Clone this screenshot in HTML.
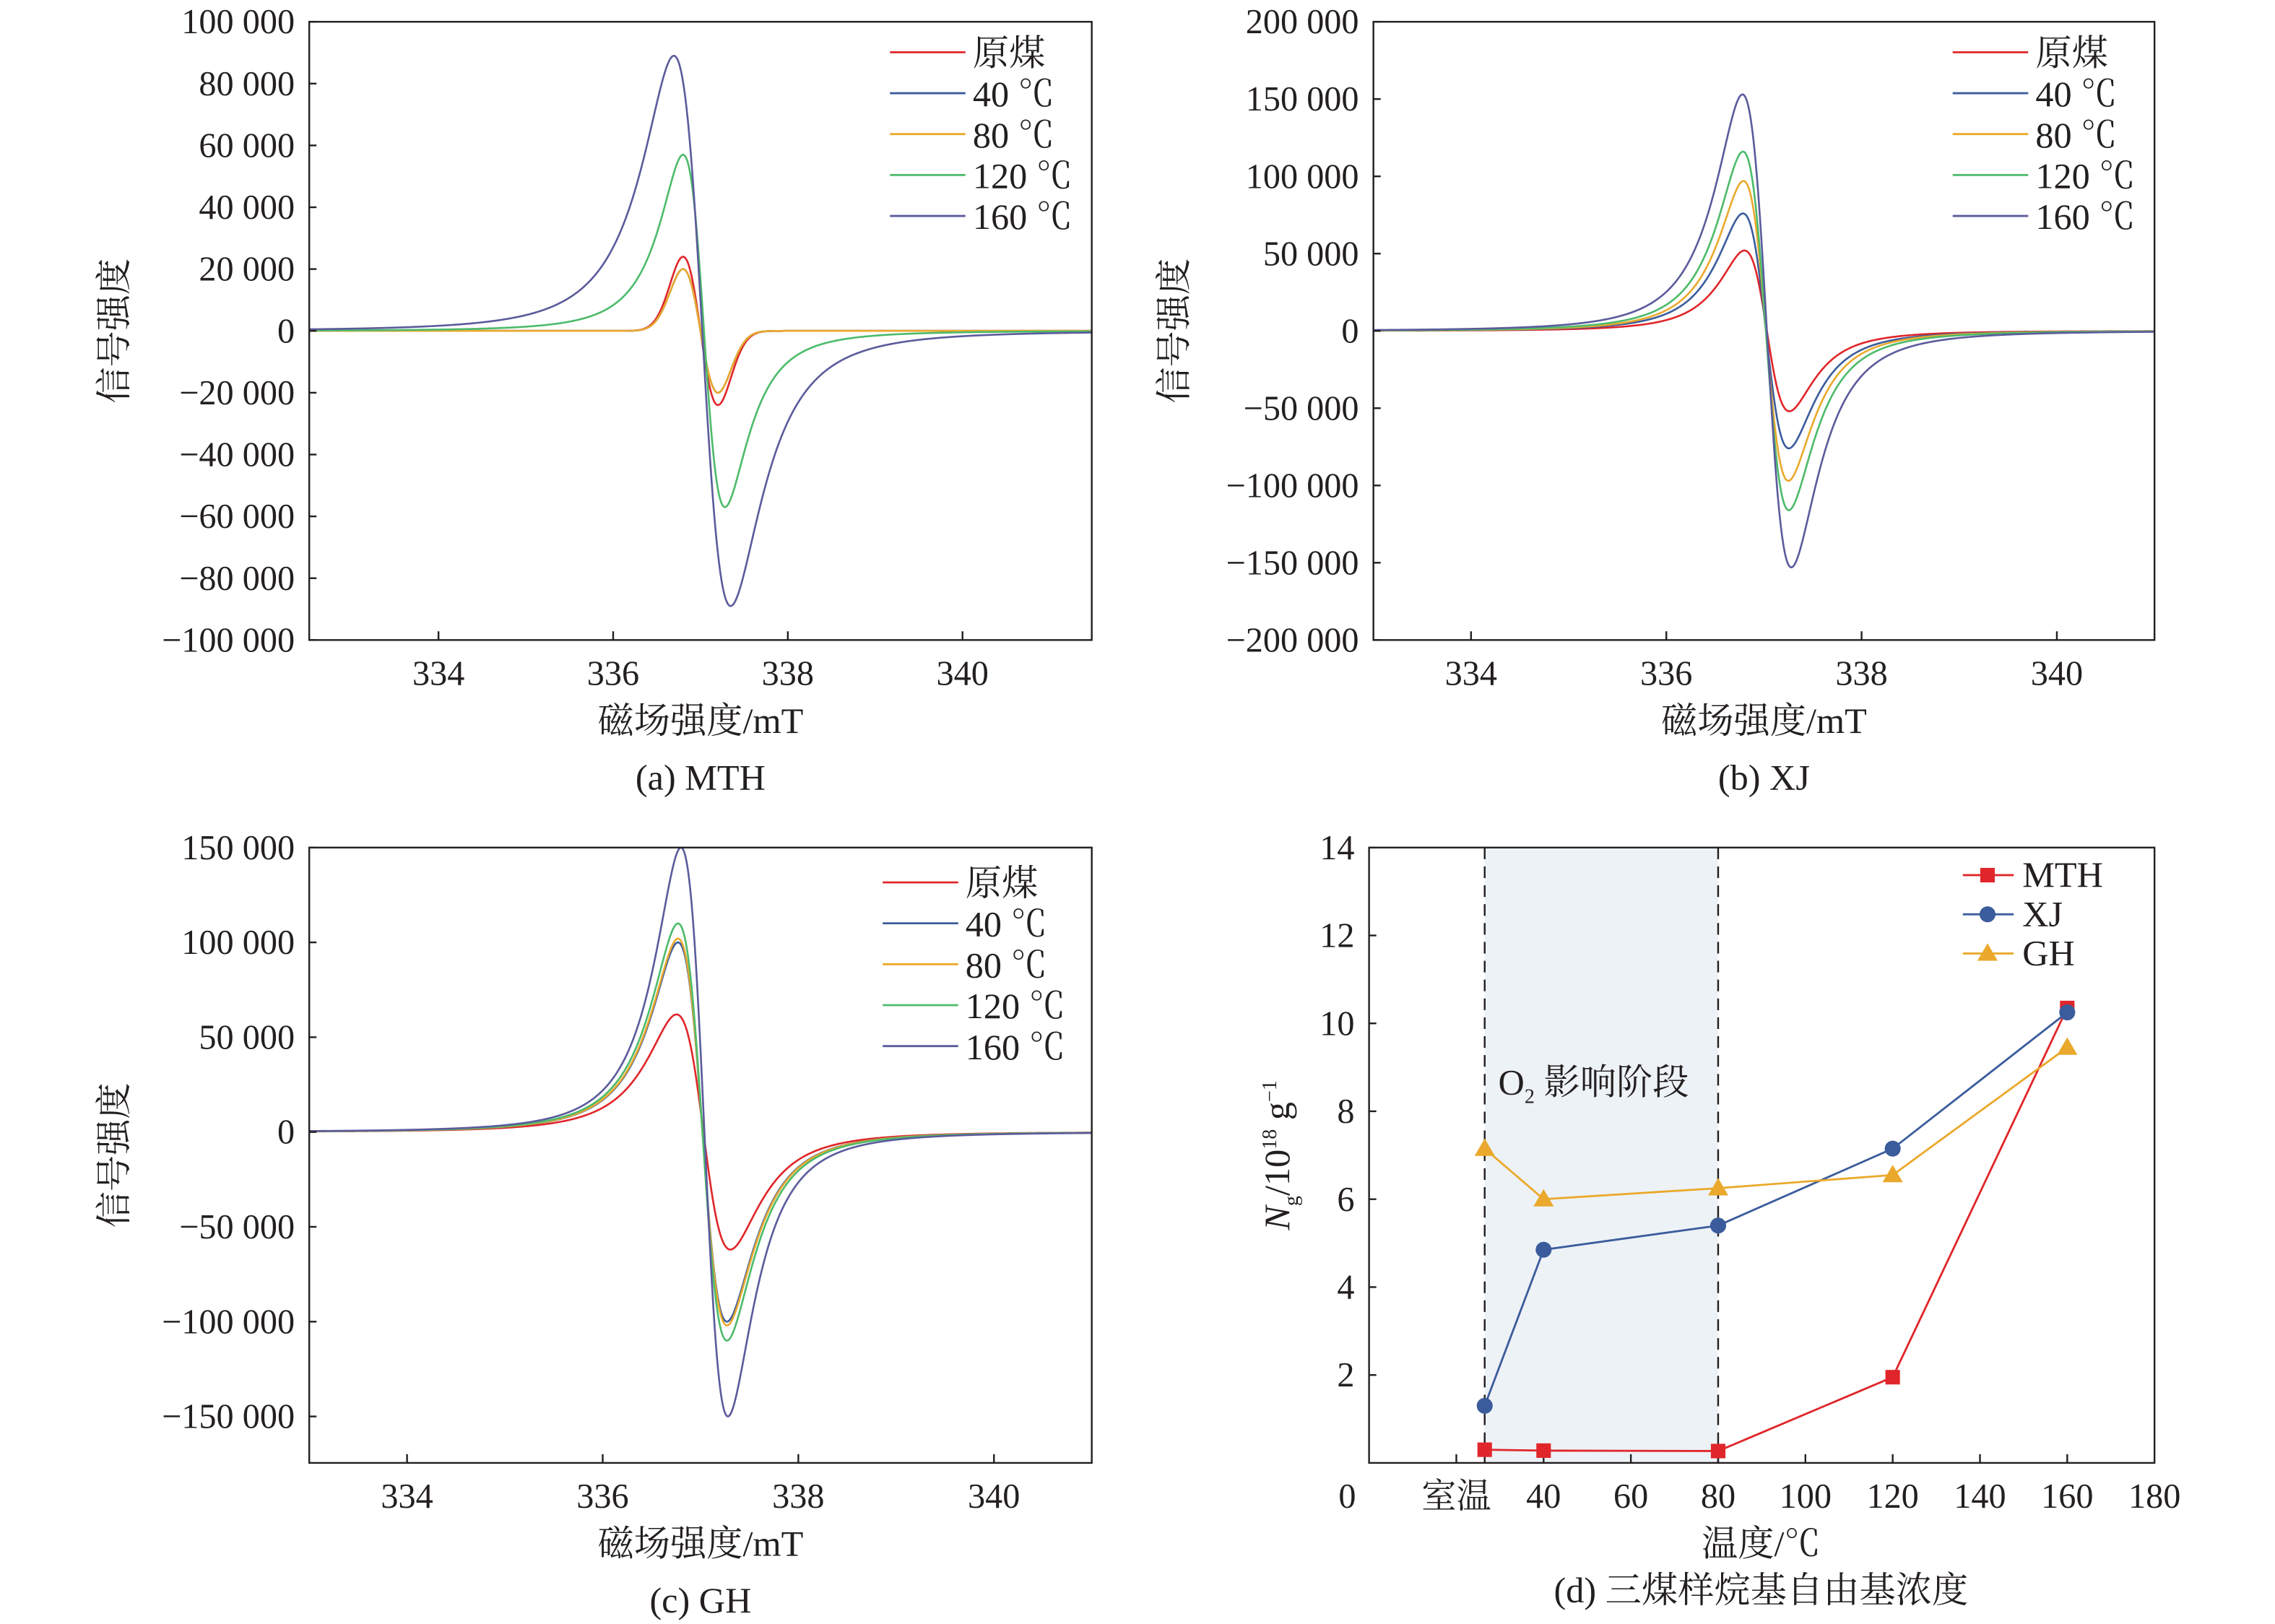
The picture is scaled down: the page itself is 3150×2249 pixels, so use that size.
<!DOCTYPE html>
<html><head><meta charset="utf-8">
<style>
html,body{margin:0;padding:0;background:#fff;}
svg{display:block;}
text{font-family:"Liberation Serif","Noto Serif CJK SC",serif;fill:#231f20;}
</style></head>
<body>
<svg id="fig" width="3150" height="2249" viewBox="0 0 1567 1119" preserveAspectRatio="none" xmlns="http://www.w3.org/2000/svg"></svg>
<script>
// ---------- data ----------
const seriesNames = ["原煤","40 ℃","80 ℃","120 ℃","160 ℃"];
// Panel (a) MTH: peak amplitude, center (mT), peak-to-peak width (mT), line shape
const ampA = [24000, 20000, 20000, 57000, 89000];
const cenA = [337.0, 337.0, 337.0, 337.04, 337.02];
const wA   = [0.40, 0.40, 0.40, 0.48, 0.65];
const shpA = ["G","G","G","L","L"];
// Panel (b) XJ
const ampB = [52000, 76000, 97000, 116000, 153000];
const cenB = [337.03, 337.02, 337.02, 337.02, 337.03];
const wB   = [0.46, 0.47, 0.46, 0.47, 0.50];
const shpB = ["L","L","L","L","L"];
// Panel (c) GH
const ampC = [62000, 100000, 102000, 110000, 150000];
const cenC = [337.03, 337.02, 337.02, 337.02, 337.04];
const wC   = [0.55, 0.50, 0.50, 0.50, 0.48];
const shpC = ["L","L","L","L","L"];
// Panel (d)
const tempX = [26.5, 40, 80, 120, 160];
const mth = [0.3, 0.28, 0.27, 1.95, 10.35];
const xj  = [1.3, 4.85, 5.4, 7.15, 10.25];
const gh  = [7.15, 6.0, 6.25, 6.55, 9.45];
const dTicksX = ["0","室温","40","60","80","100","120","140","160","180"];
const dTicksY = [2,4,6,8,10,12,14];

const colors = ["#e0262a","#3b5c9c","#eaa92c","#4dbb6b","#5b5b9c"];
const NS="http://www.w3.org/2000/svg";
const svg=document.getElementById('fig');
function el(tag,attrs,parent,txt){const e=document.createElementNS(NS,tag);for(const k in attrs)e.setAttribute(k,attrs[k]);if(txt!==undefined)e.textContent=txt;(parent||svg).appendChild(e);return e;}

function shape(x,c,w,s){
  if(s==="L"){const g=(w/2)*Math.sqrt(3);const u=(x-c)/g;return -u/Math.pow(1+u*u,2)/0.32476;}
  const sg=w/2;const u=(x-c)/sg;return -u*Math.exp(-(u*u-1)/2);
}
function fmt(v){const s=Math.abs(v).toString();const t=s.length>3?s.slice(0,s.length-3)+" "+s.slice(-3):s;return (v<0?"−":"")+t;}

function epr(P){
  const g=el('g',{});
  
  
  const sx=x=>P.L+(x-P.x0)/(P.x1-P.x0)*(P.R-P.L);
  const sy=y=>P.T+(P.y1-y)/(P.y1-P.y0)*(P.B-P.T);
  const clip=el('clipPath',{id:P.name+'-clip'},g);el('rect',{x:P.L,y:P.T,width:P.R-P.L,height:P.B-P.T},clip);
  for(let i=0;i<seriesNames.length;i++){
    let d="";
    for(let k=0;k<=900;k++){const x=P.x0+(P.x1-P.x0)*k/900;const y=P.amp[i]*shape(x,P.cen[i],P.w[i],P.shp[i]);d+=(k?"L":"M")+sx(x).toFixed(2)+","+sy(y).toFixed(2);}
    const p=el('path',{d:d,fill:"none",stroke:colors[i],"stroke-width":1.3,"clip-path":"url(#"+P.name+"-clip)"},g);
    
    
  }
  const fr=el('rect',{x:P.L,y:P.T,width:P.R-P.L,height:P.B-P.T,fill:"none",stroke:"#231f20","stroke-width":1.2},g);
  
  
  for(const v of P.yt){const y=sy(v);el('line',{x1:P.L,x2:P.L+5,y1:y,y2:y,stroke:"#231f20","stroke-width":1.2},g);
    const t=el('text',{x:P.L-10,y:y+8,"font-size":24,"text-anchor":"end"},g,fmt(v));
    
    }
  for(const v of [334,336,338,340]){const x=sx(v);el('line',{x1:x,x2:x,y1:P.B,y2:P.B-6,stroke:"#231f20","stroke-width":1.2},g);
    const t=el('text',{x:x,y:P.B+31,"font-size":24,"text-anchor":"middle"},g,v);
    
    }
  const yl=el('text',{x:0,y:0,"font-size":25,"text-anchor":"middle",transform:"translate("+(P.yl)+","+((P.T+P.B)/2)+") rotate(-90)"},g,"信号强度");
  
  
  const cx=(P.L+P.R)/2;
  const xl=el('text',{x:cx,y:P.B+64,"font-size":25,"text-anchor":"middle"},g,"磁场强度/mT");
  
  
  const cp=el('text',{x:cx,y:P.B+103,"font-size":25,"text-anchor":"middle"},g,P.cap);
  
  
  for(let i=0;i<seriesNames.length;i++){const y=P.lgY+i*28.2;
    const ln=el('line',{x1:P.lgX,x2:P.lgX+52,y1:y,y2:y,stroke:colors[i],"stroke-width":1.4},g);
    
    
    const t=el('text',{x:P.lgX+57,y:y+9,"font-size":25},g,seriesNames[i]);
    
    }
}
epr({name:"panel-a-mth",L:213,R:752,T:15,B:441,x0:332.52,x1:341.48,y0:-100000,y1:100000,
  yt:[100000,80000,60000,40000,20000,0,-20000,-40000,-60000,-80000,-100000],amp:ampA,cen:cenA,w:wA,shp:shpA,yl:87,cap:"(a) MTH",lgX:613,lgY:36});
epr({name:"panel-b-xj",L:946,R:1484,T:15,B:441,x0:333.0,x1:341.0,y0:-200000,y1:200000,
  yt:[200000,150000,100000,50000,0,-50000,-100000,-150000,-200000],amp:ampB,cen:cenB,w:wB,shp:shpB,yl:817,cap:"(b) XJ",lgX:1345,lgY:36});
epr({name:"panel-c-gh",L:213,R:752,T:584,B:1008,x0:333.0,x1:341.0,y0:-174490,y1:150000,
  yt:[150000,100000,50000,0,-50000,-100000,-150000],amp:ampC,cen:cenC,w:wC,shp:shpC,yl:87,cap:"(c) GH",lgX:608,lgY:608});

// ---------- panel d ----------
(function(){
  const L=943,R=1484,T=584,B=1008;
  const g=el('g',{});
  
  
  const sx=v=>L+v/180*(R-L), sy=v=>B-v/14*(B-T);
  const sh=el('rect',{x:sx(tempX[0]),y:T,width:sx(tempX[2])-sx(tempX[0]),height:B-T,fill:"#edf2f7"},g);
  
  
  for(const v of [tempX[0],tempX[2]]){const l=el('line',{x1:sx(v),x2:sx(v),y1:T,y2:B,stroke:"#231f20","stroke-width":1.2,"stroke-dasharray":"8,5"},g);
    
    }
  const an=el('text',{x:1032,y:754,"font-size":25},g);
  
  
  an.innerHTML='O<tspan font-size="14" dy="6">2</tspan><tspan dy="-6"> 影响阶段</tspan>';
  el('rect',{x:L,y:T,width:R-L,height:B-T,fill:"none",stroke:"#231f20","stroke-width":1.2},g);
  dTicksY.forEach(v=>{const y=sy(v);el('line',{x1:L,x2:L+5,y1:y,y2:y,stroke:"#231f20","stroke-width":1.2},g);
    const t=el('text',{x:L-10,y:y+8,"font-size":24,"text-anchor":"end"},g,v);
    
    });
  dTicksX.forEach((lab,i)=>{const x=sx(i*20);if(i>0&&i<9)el('line',{x1:x,x2:x,y1:B,y2:B-6,stroke:"#231f20","stroke-width":1.2},g);
    const t=el('text',{x:i===0?x-15:x,y:B+31,"font-size":24,"text-anchor":"middle"},g,lab);
    
    });
  const sets=[[mth,"#e0262a","s","MTH"],[xj,"#3b5c9c","c","XJ"],[gh,"#eaa92c","t","GH"]];
  function marker(x,y,m,c,parent){
    if(m==="s")return el('rect',{x:x-5,y:y-5,width:10,height:10,fill:c},parent);
    if(m==="c")return el('circle',{cx:x,cy:y,r:5.5,fill:c},parent);
    return el('polygon',{points:(x)+","+(y-7)+" "+(x-7)+","+(y+5)+" "+(x+7)+","+(y+5),fill:c},parent);
  }
  sets.forEach((s,j)=>{
    const pts=tempX.map((t,i)=>sx(t).toFixed(2)+","+sy(s[0][i]).toFixed(2)).join(" ");
    const pl=el('polyline',{points:pts,fill:"none",stroke:s[1],"stroke-width":1.4},g);
    
    
    tempX.forEach((t,i)=>{const m=marker(sx(t),sy(s[0][i]),s[2],s[1],g);
      
      });
    const y=603+j*27;
    const ll=el('line',{x1:1352,x2:1387,y1:y,y2:y,stroke:s[1],"stroke-width":1.4},g);
    
    
    marker(1369,y,s[2],s[1],g);
    const lt=el('text',{x:1393,y:y+8,"font-size":25},g,s[3]);
    
    
  });
  const yl=el('text',{x:0,y:0,"font-size":25,"text-anchor":"middle",transform:"translate(888,796) rotate(-90)"},g);
  
  
  yl.innerHTML='<tspan font-style="italic">N</tspan><tspan font-size="14" dy="6">g</tspan><tspan dy="-6">/10</tspan><tspan font-size="14" dy="-9">18</tspan><tspan dy="9"> g</tspan><tspan font-size="14" dy="-9">−1</tspan>';
  const xl=el('text',{x:1213,y:1072,"font-size":25,"text-anchor":"middle"},g,"温度/℃");
  
  
  const cp=el('text',{x:1213,y:1104,"font-size":25,"text-anchor":"middle"},g,"(d) 三煤样烷基自由基浓度");
  
  
})();
</script>
</body></html>
